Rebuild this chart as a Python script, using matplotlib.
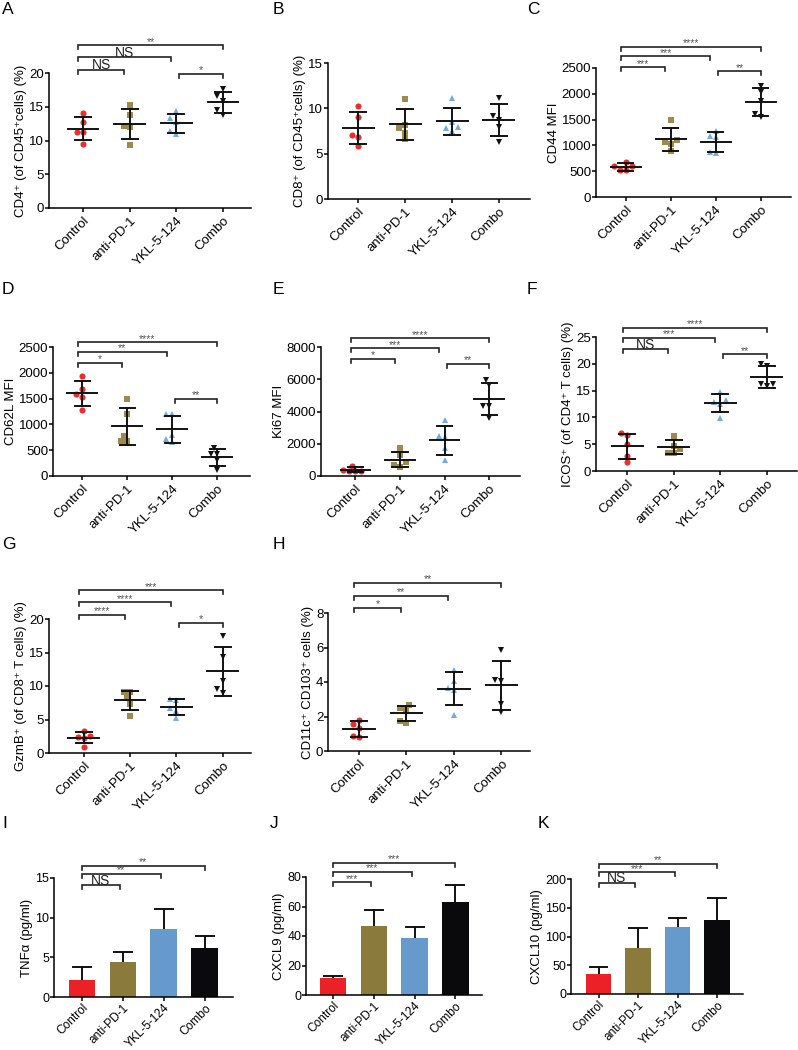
import matplotlib
matplotlib.use('Agg')
import matplotlib.pyplot as plt
import numpy as np
from matplotlib.ticker import FormatStrFormatter

plt.rcParams['font.family'] = ['Liberation Sans', 'DejaVu Sans']

groups = ['Control', 'anti-PD-1', 'YKL-5-124', 'Combo']

# ---- dot plots: 5 mice per group (Control, anti-PD-1, YKL-5-124, Combo) ----
cd4_pct = [[14.06, 12.67, 11.2, 11.2, 9.5],
           [15.25, 13.76, 12.18, 12.03, 9.26],
           [14.4, 13.3, 12.7, 11.4, 11.0],
           [17.6, 16.6, 15.9, 14.5, 13.8]]
cd8_pct = [[10.3, 9.06, 7.08, 6.86, 5.87],
           [11.07, 8.21, 7.88, 7.33, 6.64],
           [11.18, 8.47, 7.99, 7.85, 7.48],
           [11.15, 9.2, 8.73, 7.99, 6.34]]
cd44_mfi = [[687, 596, 596, 518, 518],
            [1500, 1110, 1060, 1030, 900],
            [1280, 1180, 1160, 870, 860],
            [2157, 2040, 1859, 1606, 1541]]
cd62l_mfi = [[1939, 1682, 1591, 1540, 1276],
             [1488, 1198, 773, 670, 670],
             [1192, 1192, 799, 657, 709],
             [541, 432, 432, 303, 116]]
ki67_mfi = [[640, 330, 320, 340, 380],
            [1711, 1299, 845, 577, 660],
            [3464, 2474, 2392, 1711, 990],
            [5980, 5629, 4351, 4351, 3588]]
icos_pct = [[7.0, 6.68, 5.01, 2.72, 1.61],
            [6.62, 4.02, 4.64, 3.4, 3.4],
            [14.67, 12.93, 13.24, 12.44, 9.96],
            [19.99, 19.62, 16.27, 16.27, 15.78]]
gzmb_pct = [[3.23, 2.34, 2.29, 2.49, 0.95],
            [9.05, 9.05, 8.16, 7.36, 5.57],
            [7.96, 8.06, 6.77, 6.27, 5.27],
            [17.46, 14.33, 10.8, 9.5, 8.9]]
cd11c_pct = [[1.81, 1.59, 1.32, 0.82, 0.85],
             [2.64, 2.52, 2.35, 1.65, 1.75],
             [4.72, 4.08, 3.67, 3.53, 2.08],
             [5.86, 4.12, 4.08, 2.7, 2.25]]

# ---- bar charts: mean and SD ----
tnfa_mean = [2.2, 4.35, 8.53, 6.13]
tnfa_sd = [1.52, 1.27, 2.58, 1.52]
cxcl9_mean = [11.3, 46.5, 38.75, 63.0]
cxcl9_sd = [1.6, 11.3, 7.5, 11.8]
cxcl10_mean = [34.2, 79.4, 116.5, 128.7]
cxcl10_sd = [12.2, 36.0, 16.2, 38.3]

# ---- significance: (group a, group b, label, height) ----
sig_a = [(0, 1, 'NS', 20.5), (0, 2, 'NS', 22.3), (0, 3, '**', 24.1), (2, 3, '*', 19.85)]
sig_c = [(0, 1, '***', 2513), (0, 2, '***', 2727), (0, 3, '****', 2908), (2, 3, '**', 2435)]
sig_d = [(0, 1, '*', 2190), (0, 2, '**', 2403), (0, 3, '****', 2590), (2, 3, '**', 1495)]
sig_e = [(0, 1, '*', 7279), (0, 2, '***', 7918), (0, 3, '****', 8537), (2, 3, '**', 6970)]
sig_f = [(0, 1, 'NS', 22.7), (0, 2, '***', 24.8), (0, 3, '****', 26.7), (2, 3, '**', 21.8)]
sig_g = [(0, 1, '****', 20.65), (0, 2, '****', 22.5), (0, 3, '***', 24.3), (2, 3, '*', 19.4)]
sig_h = [(0, 1, '*', 8.29), (0, 2, '**', 9.0), (0, 3, '**', 9.75)]
sig_i = [(0, 1, 'NS', 14.07), (0, 2, '**', 15.55), (0, 3, '**', 16.56)]
sig_j = [(0, 1, '***', 76.4), (0, 2, '***', 83.6), (0, 3, '***', 89.5)]
sig_k = [(0, 1, 'NS', 193), (0, 2, '***', 212), (0, 3, '**', 226)]

dot_colors = ['#ef2b2d', '#9d8a4c', '#74aadf', '#111111']
dot_markers = ['o', 's', '^', 'v']
bar_colors = ['#ec2127', '#8a7a3b', '#6699cc', '#0a0a0c']

W, H = 798, 1050
fig = plt.figure(figsize=(W / 100, H / 100), dpi=100)


def make_ax(box, xlim, ytop, ystep, ylabel, fs=9.5):
    l, t, r, b = box
    ax = fig.add_axes([l / W, 1 - b / H, (r - l) / W, (b - t) / H])
    ax.set_xlim(*xlim)
    ax.set_ylim(0, ytop)
    ax.set_yticks(np.arange(0, ytop + ystep / 2, ystep))
    ax.yaxis.set_major_formatter(FormatStrFormatter('%g'))
    ax.set_xticks(range(4))
    ax.set_xticklabels(groups, rotation=45, ha='right', rotation_mode='anchor')
    for s in ['top', 'right']:
        ax.spines[s].set_visible(False)
    for s in ['left', 'bottom']:
        ax.spines[s].set_linewidth(1.1)
    ax.tick_params(direction='out', length=2.6, width=1.1, labelsize=fs, pad=0.8)
    ax.tick_params(axis='x', pad=2.5)
    ax.set_ylabel(ylabel, fontsize=9.5, labelpad=1.5)
    return ax


def px_per_unit(ax):
    p0 = ax.transData.transform((0, 0))
    p1 = ax.transData.transform((1, 1))
    return p1[0] - p0[0], p1[1] - p0[1]


def swarm(ax, vals, d=6.0):
    sx, sy = px_per_unit(ax)
    ypx = np.array(vals) * sy
    cands = sorted([k * d / 2 for k in range(-12, 13)], key=lambda o: (abs(o), o))
    placed = []
    offs = np.zeros(len(vals))
    for idx in np.argsort(ypx):
        for o in cands:
            if all(np.hypot(o - px, ypx[idx] - py) >= d * 0.97 for px, py in placed):
                break
        placed.append((o, ypx[idx]))
        offs[idx] = o / sx
    return offs


def dot_panel(ax, data):
    for i, vals in enumerate(data):
        offs = swarm(ax, vals)
        ax.plot(i + offs, vals, linestyle='none', marker=dot_markers[i],
                markersize=4.4, color=dot_colors[i], markeredgewidth=0,
                clip_on=False, zorder=3)
        m = np.mean(vals)
        sd = np.std(vals, ddof=1)
        ax.plot([i - 0.33, i + 0.33], [m, m], color='#111', lw=1.4, zorder=4)
        ax.plot([i - 0.17, i + 0.17], [m + sd, m + sd], color='#111', lw=1.4, zorder=4)
        ax.plot([i - 0.17, i + 0.17], [m - sd, m - sd], color='#111', lw=1.4, zorder=4)
        ax.plot([i, i], [m - sd, m + sd], color='#111', lw=1.4, zorder=4)


def bar_panel(ax, means, sds):
    x = np.arange(4)
    ax.bar(x, means, width=0.65, color=bar_colors, zorder=2)
    for i in x:
        top = means[i] + sds[i]
        ax.plot([i, i], [means[i], top], color='#111', lw=1.4, zorder=1)
        ax.plot([i - 0.22, i + 0.22], [top, top], color='#111', lw=1.4, zorder=1)


def brackets(ax, sigs, inset_l=0.1, inset_r=0.12, shift_l=0.06):
    sx, sy = px_per_unit(ax)
    h = 4.0 / sy
    for a, b, lab, y in sigs:
        x0 = a - inset_l if a == 0 else a + shift_l
        x1 = b - inset_r if b < 3 else b
        ax.plot([x0, x0, x1, x1], [y - h, y, y, y - h], color='#222', lw=1.2,
                clip_on=False, solid_joinstyle='miter')
        xm = (x0 + x1) / 2
        if lab == 'NS':
            ax.text(xm, y + 0.8 / sy, lab, ha='center', va='baseline',
                    fontsize=10, color='#222', clip_on=False)
        else:
            ax.text(xm, y + 0.5 / sy, lab, ha='center', va='baseline',
                    fontsize=7.5, color='#555', clip_on=False)


# ---- row 1 ----
axA = make_ax((49, 73, 251, 208), (-0.73, 3.6), 20, 5, 'CD4⁺ (of CD45⁺cells) (%)')
dot_panel(axA, cd4_pct)
brackets(axA, sig_a)

axB = make_ax((328, 63, 530, 199), (-0.64, 3.66), 15, 5, 'CD8⁺ (of CD45⁺cells) (%)')
dot_panel(axB, cd8_pct)

axC = make_ax((596, 68, 791, 197), (-0.66, 3.67), 2500, 500, 'CD44 MFI')
dot_panel(axC, cd44_mfi)
brackets(axC, sig_c)

# ---- row 2 ----
axD = make_ax((53, 347, 250, 476), (-0.65, 3.73), 2500, 500, 'CD62L MFI')
dot_panel(axD, cd62l_mfi)
brackets(axD, sig_d)

axE = make_ax((321, 347, 520, 476), (-0.77, 3.69), 8000, 2000, 'Ki67 MFI')
dot_panel(axE, ki67_mfi)
brackets(axE, sig_e)

axF = make_ax((596, 337, 797, 471), (-0.67, 3.65), 25, 5, 'ICOS⁺ (of CD4⁺ T cells) (%)')
dot_panel(axF, icos_pct)
brackets(axF, sig_f)

# ---- row 3 ----
axG = make_ax((49, 619, 251, 753), (-0.75, 3.61), 20, 5, 'GzmB⁺ (of CD8⁺ T cells) (%)')
dot_panel(axG, gzmb_pct)
brackets(axG, sig_g)

axH = make_ax((328, 613, 530, 751), (-0.65, 3.6), 8, 2, 'CD11c⁺ CD103⁺ cells (%)')
dot_panel(axH, cd11c_pct)
brackets(axH, sig_h)

# ---- row 4 ----
axI = make_ax((54, 878, 233, 997), (-0.68, 3.69), 15, 5, 'TNFα (pg/ml)', fs=9)
bar_panel(axI, tnfa_mean, tnfa_sd)
brackets(axI, sig_i, inset_l=0.0, inset_r=0.07, shift_l=0.0)

axJ = make_ax((306, 877, 482, 995), (-0.66, 3.65), 80, 20, 'CXCL9 (pg/ml)', fs=9)
bar_panel(axJ, cxcl9_mean, cxcl9_sd)
brackets(axJ, sig_j, inset_l=0.0, inset_r=0.07, shift_l=0.0)

axK = make_ax((571, 879, 743, 994), (-0.7, 3.66), 200, 50, 'CXCL10 (pg/ml)', fs=9)
bar_panel(axK, cxcl10_mean, cxcl10_sd)
brackets(axK, sig_k, inset_l=0.0, inset_r=0.07, shift_l=0.0)
for ax in (axI, axJ, axK):
    ax.tick_params(axis='x', pad=1.0, labelsize=8.6)

# panel letters
letters = [('A', 2, 2), ('B', 273, 2), ('C', 527, 2),
           ('D', 2, 282), ('E', 273, 282), ('F', 527, 282),
           ('G', 2, 537), ('H', 273, 537),
           ('I', 2, 816), ('J', 270, 816), ('K', 538, 816)]
for lab, x, y in letters:
    fig.text(x / W, 1 - y / H, lab, fontsize=12.5, ha='left', va='top')

fig.savefig('out.png', dpi=100)
